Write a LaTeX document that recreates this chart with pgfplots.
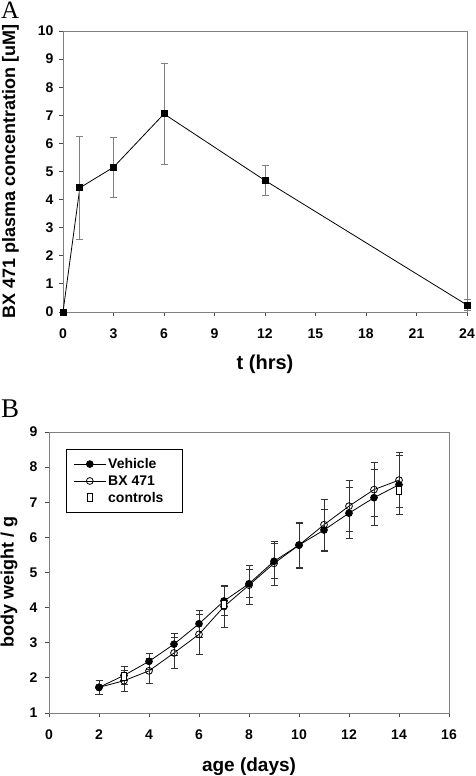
\documentclass[border=0pt]{standalone}
\usepackage{fontspec}
\setmainfont{Liberation Sans}
\newfontfamily\seriffont{Liberation Serif}
\usepackage{pgfplots}
\pgfplotsset{compat=1.18}

\pgfplotsset{
  common/.style={
    scale only axis,
    anchor=south west,
    /pgf/number format/assume math mode=true,
    tick label style={font=\fontsize{14}{16}\selectfont\bfseries},
    label style={font=\fontsize{18}{21}\selectfont\bfseries},
    axis line style={gray, line width=0.8pt},
    major tick style={gray!60!black, line width=0.8pt},
    tick align=outside,
    major tick length=4pt,
    xtick pos=left, ytick pos=left,
    clip=false,
  }
}

\begin{document}
\begin{tikzpicture}[x=1pt,y=1pt]
\useasboundingbox (0pt,0pt) rectangle (475pt,776pt);

% Panel labels
\node[anchor=base west, inner sep=0pt, font=\seriffont\fontsize{25}{28}\selectfont] at (1pt,757pt) {A};
\node[anchor=base west, inner sep=0pt, font=\seriffont\fontsize{27}{30}\selectfont] at (1pt,358pt) {B};

% ---------------- Panel A ----------------
\begin{axis}[common,
  at={(63pt,464pt)}, width=404pt, height=281pt,
  xmin=0, xmax=24, ymin=0, ymax=10,
  xtick={0,3,...,24}, ytick={0,1,...,10},
  xticklabel style={yshift=-9pt},
  yticklabel style={xshift=-2pt},
  xlabel={t (hrs)}, ylabel={BX 471 plasma concentration [uM]},
  xlabel style={at={(axis description cs:0.5,-0.185)}, anchor=center, font=\fontsize{20}{23}\selectfont\bfseries},
  ylabel style={at={(axis description cs:-0.13,0.5)}, anchor=center},
]
\addplot[black, line width=0.8pt, mark=square*, mark size=3pt,
  error bars/.cd, y dir=both, y explicit,
  error bar style={gray, line width=0.8pt},
  error mark options={rotate=90, mark size=3.5pt, gray, line width=0.8pt}]
  coordinates {
  (0,0) +- (0,0)
  (1,4.42) +- (0,1.83)
  (3,5.15) +- (0,1.06)
  (6,7.05) +- (0,1.80)
  (12,4.68) +- (0,0.53)
  (24,0.25) +- (0,0.20)
};
\end{axis}

% ---------------- Panel B ----------------
\begin{axis}[common,
  at={(49pt,63pt)}, width=400pt, height=281pt,
  xmin=0, xmax=16, ymin=1, ymax=9,
  xtick={0,2,...,16}, ytick={1,2,...,9},
  xticklabel style={yshift=-9pt},
  yticklabel style={xshift=-4pt},
  xlabel={age (days)}, ylabel={body weight / g},
  xlabel style={at={(axis description cs:0.5,-0.19)}, anchor=center, font=\fontsize{19}{22}\selectfont\bfseries},
  ylabel style={at={(axis description cs:-0.1,0.466)}, anchor=center},
  legend style={at={(rel axis cs:0.0425,0.94)}, anchor=north west,
    draw=black, line width=0.8pt, font=\fontsize{14}{16}\selectfont\bfseries,
    inner xsep=7pt, inner ysep=7pt, row sep=1.5pt,
    legend cell align=left},
  legend image code/.code={\draw[mark repeat=2,mark phase=2] plot coordinates {(0pt,0pt)(16pt,0pt)(32pt,0pt)};},
]
\addplot[black, line width=0.8pt, mark=*, mark size=3.4pt, mark options={fill=black},
  error bars/.cd, y dir=both, y explicit,
  error bar style={black!80, line width=0.7pt},
  error mark options={rotate=90, mark size=3.5pt, black!80, line width=0.7pt}]
  coordinates {
  (2,1.73) +- (0,0.21)
  (3,2.07) +- (0,0.26)
  (4,2.47) +- (0,0.23)
  (5,2.96) +- (0,0.31)
  (6,3.54) +- (0,0.38)
  (7,4.19) +- (0,0.41)
  (8,4.68) +- (0,0.40)
  (9,5.32) +- (0,0.50)
  (10,5.78) +- (0,0.63)
  (11,6.21) +- (0,0.60)
  (12,6.69) +- (0,0.73)
  (13,7.13) +- (0,0.80)
  (14,7.50) +- (0,0.84)
};
\addlegendentry{Vehicle}
\addplot[black, line width=0.8pt, mark=o, mark size=3.4pt, mark options={fill=white},
  error bars/.cd, y dir=both, y explicit,
  error bar style={black!80, line width=0.7pt},
  error mark options={rotate=90, mark size=3.5pt, black!80, line width=0.7pt}]
  coordinates {
  (2,1.73) +- (0,0.21)
  (3,1.92) +- (0,0.30)
  (4,2.20) +- (0,0.35)
  (5,2.71) +- (0,0.45)
  (6,3.24) +- (0,0.57)
  (7,4.03) +- (0,0.59)
  (8,4.64) +- (0,0.56)
  (9,5.26) +- (0,0.63)
  (10,5.78) +- (0,0.65)
  (11,6.36) +- (0,0.72)
  (12,6.89) +- (0,0.72)
  (13,7.36) +- (0,0.77)
  (14,7.63) +- (0,0.78)
};
\addlegendentry{BX 471}
\addplot[only marks, black, line width=0.8pt, mark=square*, mark size=4pt,
  mark options={fill=white, xscale=0.6}]
  coordinates {
  (3,2.04)
  (7,4.08)
  (14,7.34)
};
\addlegendentry{controls\hspace*{10pt}}
\end{axis}
\end{tikzpicture}
\end{document}
